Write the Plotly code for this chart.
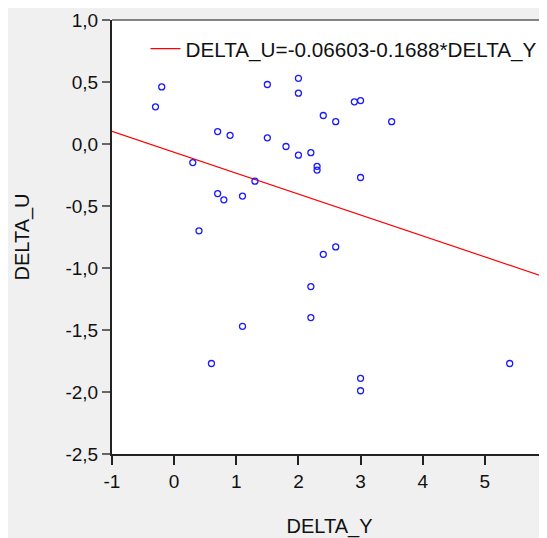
import plotly.graph_objects as go

# Data
delta_y = [-0.2, -0.3, 1.5, 2.0, 2.0, 2.9, 3.0, 2.4, 2.6, 3.5,
           0.7, 0.9, 1.5, 1.8, 2.0, 2.2, 2.3, 2.3, 3.0, 0.3,
           1.3, 0.7, 0.8, 1.1, 0.4, 2.4, 2.6, 2.2, 2.2, 1.1,
           0.6, 5.4, 3.0, 3.0]
delta_u = [0.46, 0.30, 0.48, 0.53, 0.41, 0.34, 0.35, 0.23, 0.18, 0.18,
           0.10, 0.07, 0.05, -0.02, -0.09, -0.07, -0.18, -0.21, -0.27, -0.15,
           -0.30, -0.40, -0.45, -0.42, -0.70, -0.89, -0.83, -1.15, -1.40, -1.47,
           -1.77, -1.77, -1.89, -1.99]

intercept = -0.06603
slope = -0.1688
x_range = [-1, 6]
y_range = [-2.5, 1.0]

x_tickvals = [-1, 0, 1, 2, 3, 4, 5, 6]
x_ticktext = ["-1", "0", "1", "2", "3", "4", "5", "6"]
y_tickvals = [1.0, 0.5, 0.0, -0.5, -1.0, -1.5, -2.0, -2.5]
y_ticktext = ["1,0", "0,5", "0,0", "-0,5", "-1,0", "-1,5", "-2,0", "-2,5"]

legend_label = "DELTA_U=-0.06603-0.1688*DELTA_Y"

FONT = "Liberation Sans, Arial, sans-serif"

line_x = [x_range[0], x_range[1] + 0.5]
line_y = [intercept + slope * v for v in line_x]

fig = go.Figure()
fig.add_trace(go.Scatter(
    x=line_x, y=line_y, mode="lines", name=legend_label,
    line=dict(color="#ff0000", width=1.2), showlegend=True,
))
fig.add_trace(go.Scatter(
    x=delta_y, y=delta_u, mode="markers", showlegend=False,
    marker=dict(symbol="circle-open", size=6, color="#1a1aff",
                line=dict(width=1.3, color="#1a1aff")),
))

fig.update_layout(
    width=539, height=530,
    margin=dict(l=104, r=0, t=12, b=84, pad=0, autoexpand=False),
    paper_bgcolor="#f0f0f0",
    plot_bgcolor="#ffffff",
    font=dict(family=FONT, size=19, color="#111111"),
    showlegend=True,
    legend=dict(x=0.077, y=0.98, xanchor="left", yanchor="top",
                bgcolor="rgba(0,0,0,0)", borderwidth=0,
                font=dict(family=FONT, size=20.7, color="#111111")),
    xaxis=dict(
        range=x_range, tickvals=x_tickvals, ticktext=x_ticktext,
        showgrid=False, zeroline=False,
        showline=True, linecolor="#222222", linewidth=2,
        ticks="outside", ticklen=9, tickcolor="#222222", tickwidth=1.5,
        title=dict(text="DELTA_Y", font=dict(family=FONT, size=20), standoff=34),
        automargin=False,
    ),
    yaxis=dict(
        range=y_range, tickvals=y_tickvals, ticktext=y_ticktext,
        showgrid=False, zeroline=False,
        showline=True, linecolor="#222222", linewidth=2,
        ticks="outside", ticklen=8, tickcolor="#666666", tickwidth=1.5,
        title=dict(text="DELTA_U", font=dict(family=FONT, size=20), standoff=30),
        automargin=False,
    ),
    shapes=[
        dict(type="line", xref="paper", yref="paper", x0=0, x1=1.2, y0=1, y1=1,
             line=dict(color="#111111", width=1.2)),
    ],
)

fig.write_html("out.html")
